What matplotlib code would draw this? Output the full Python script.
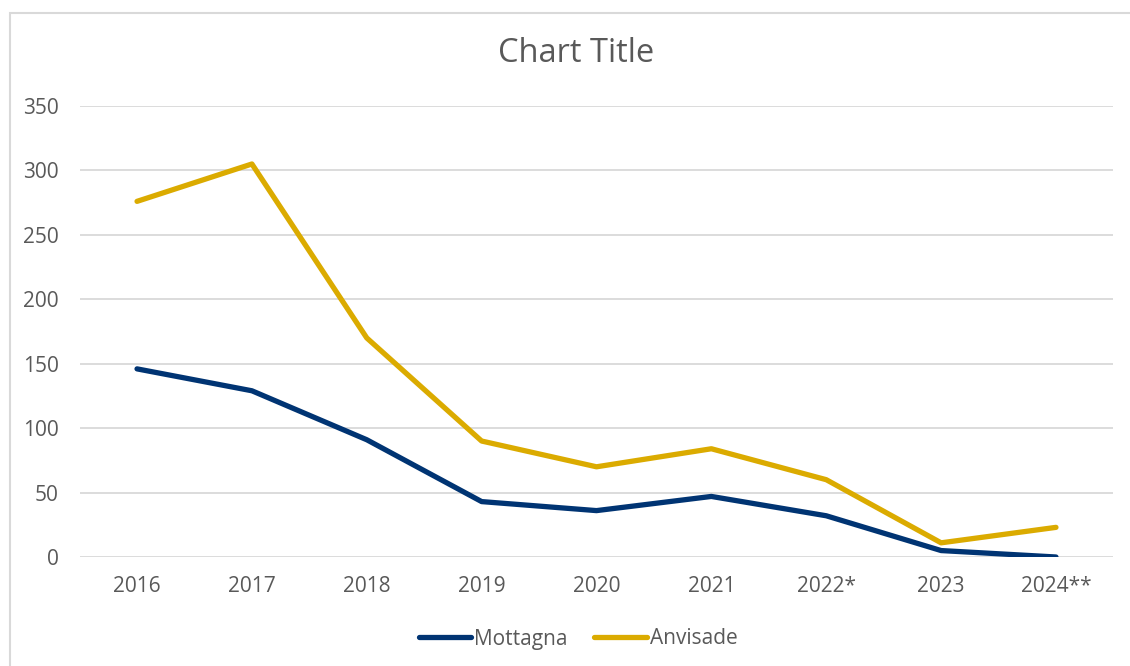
import matplotlib
matplotlib.use('Agg')
import matplotlib.pyplot as plt
from matplotlib.patches import Rectangle

# data
years = ['2016', '2017', '2018', '2019', '2020', '2021', '2022*', '2023', '2024**']
mottagna = [146, 129, 91, 43, 36, 47, 32, 5, 0]
anvisade = [276, 305, 170, 90, 70, 84, 60, 11, 23]
yticks = [0, 50, 100, 150, 200, 250, 300, 350]

txt = '#595959'
plt.rcParams['font.family'] = ['Open Sans', 'DejaVu Sans']

W, H = 1130, 666
fig = plt.figure(figsize=(W / 100, H / 100), dpi=100)
ax = fig.add_axes([79.6 / W, 1 - 557 / H, (1113.4 - 79.6) / W, (557 - 106) / H])

x = list(range(len(years)))
ax.plot(x, mottagna, color='#003473', lw=3.8, solid_capstyle='round', solid_joinstyle='round', label='Mottagna', zorder=3)
ax.plot(x, anvisade, color='#DBAB00', lw=3.8, solid_capstyle='round', solid_joinstyle='round', label='Anvisade', zorder=3)

ax.set_xlim(-0.5, len(years) - 0.5)
ax.set_ylim(0, 350)
ax.set_yticks(yticks)
ax.set_xticks(x)
ax.set_xticklabels(years)
ax.grid(axis='y', color='#d9d9d9', lw=1.3)
ax.set_axisbelow(True)
for s in ax.spines.values():
    s.set_visible(False)
ax.tick_params(length=0, labelsize=15, labelcolor=txt)
ax.tick_params(axis='y', pad=15)
ax.tick_params(axis='x', pad=14)

fig.text(576 / W, 1 - 53 / H, 'Chart Title', ha='center', va='center', fontsize=23.5, color=txt)

leg = fig.legend(loc='center', bbox_to_anchor=(578 / W, 1 - 639 / H), ncol=2, frameon=False,
                 fontsize=15, handlelength=2.5, handletextpad=0.15, columnspacing=1.3)
for t in leg.get_texts():
    t.set_color(txt)

# outer chart border (cropped at right and bottom)
fig.patches.append(Rectangle((9.5 / W, -0.1), 1.2, 1 - 12.5 / H + 0.1, transform=fig.transFigure,
                             fill=False, edgecolor='#d9d9d9', lw=1.5))

fig.savefig('out.png', dpi=100)
